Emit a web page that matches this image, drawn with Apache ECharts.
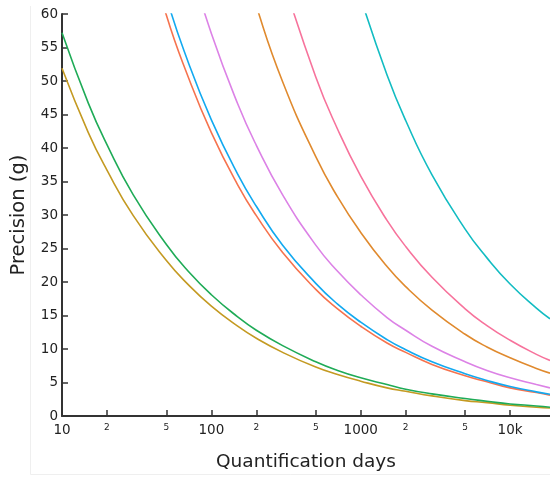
<!DOCTYPE html>
<html>
<head>
<meta charset="utf-8">
<script src="https://cdn.jsdelivr.net/npm/echarts@6/dist/echarts.min.js"></script>
<style>html,body{margin:0;padding:0;background:#fff}#c{width:550px;height:477px}</style>
</head>
<body>
<div id="c"></div>
<script>
const days = [10,15,20,30,50,70,100,150,200,300,500,700,1000,1500,2000,3000,5000,7000,10000,15000,18500];
const tickDays = [10,20,50,100,200,500,1000,2000,5000,10000];
const tickNames = ['10','2','5','100','2','5','1000','2','5','10k'];
const yTicks = [0,5,10,15,20,25,30,35,40,45,50,55,60];

const gold   = [51.9,42.3,36.7,29.9,23.2,19.6,16.4,13.4,11.6,9.5,7.3,6.2,5.2,4.2,3.7,3.0,2.3,2.0,1.6,1.3,1.2];
const green  = [57.2,46.7,40.5,33.0,25.6,21.6,18.1,14.8,12.8,10.5,8.1,6.8,5.7,4.7,4.0,3.3,2.6,2.2,1.8,1.5,1.3];
const red    = [null,null,null,77.2,59.8,50.6,42.3,34.5,29.9,24.4,18.9,16.0,13.4,10.9,9.5,7.7,6.0,5.1,4.2,3.5,3.1];
const blue   = [null,null,null,80.7,62.5,52.8,44.2,36.1,31.3,25.5,19.8,16.7,14.0,11.4,9.9,8.1,6.3,5.3,4.4,3.6,3.25];
const violet = [null,null,null,null,null,68.2,57.1,46.6,40.4,33.0,25.5,21.6,18.1,14.7,12.8,10.4,8.1,6.8,5.7,4.7,4.2];
const orange = [null,null,null,null,null,null,null,70.6,61.2,49.9,38.7,32.7,27.4,22.3,19.3,15.8,12.2,10.3,8.7,7.1,6.4];
const pink   = [null,null,null,null,null,null,null,null,null,65.4,50.6,42.8,35.8,29.2,25.3,20.7,16.0,13.5,11.3,9.2,8.3];
const teal   = [null,null,null,null,null,null,null,null,null,null,null,null,62.4,50.9,44.1,36.0,27.9,23.6,19.7,16.1,14.5];

const seriesDefs = [
  ['gold', gold, '#c49a22'],
  ['green', green, '#1fab57'],
  ['red', red, '#f6734e'],
  ['blue', blue, '#12a9f0'],
  ['violet', violet, '#dc82e6'],
  ['orange', orange, '#e08a2e'],
  ['pink', pink, '#f7739c'],
  ['teal', teal, '#12bcc2']
];

const chart = echarts.init(document.getElementById('c'), null, {renderer:'canvas'});
const font = 'DejaVu Sans';
chart.setOption({
  animation: false,
  backgroundColor: '#fff',
  textStyle: {fontFamily: font},
  graphic: [{
    type: 'polyline',
    shape: {points: [[30.5, 6], [30.5, 474.5], [560, 474.5]]},
    style: {stroke: '#efefef', lineWidth: 1, fill: null},
    silent: true
  }],
  grid: {left: 62, top: 14, right: 0, bottom: 59, containLabel: false},
  xAxis: {
    type: 'log', logBase: 10, min: 10, max: 18500,
    name: 'Quantification days', nameLocation: 'middle', nameGap: 37,
    nameTextStyle: {fontSize: 18.5, color: '#222', fontFamily: font},
    axisLine: {show: true, lineStyle: {color: '#333', width: 2}},
    axisTick: {show: true, inside: true, length: 6, lineStyle: {color: '#333', width: 1.5}, customValues: tickDays},
    axisLabel: {
      customValues: tickDays, margin: 7, color: '#222', fontFamily: font,
      formatter: function (v) {
        let idx = -1, best = 1e9;
        tickDays.forEach((d, i) => { const e = Math.abs(Math.log10(d) - Math.log10(v)); if (e < best) { best = e; idx = i; } });
        const t = tickNames[idx];
        return (t.length === 1) ? '{mn|' + t + '}' : '{mj|' + t + '}';
      },
      rich: {
        mj: {fontSize: 13.5, color: '#222', fontFamily: font},
        mn: {fontSize: 9, color: '#222', fontFamily: font, verticalAlign: 'top', padding: [0,0,4,0]}
      }
    },
    splitLine: {show: false},
    minorTick: {show: false}
  },
  yAxis: {
    type: 'value', min: 0, max: 60, interval: 5,
    name: 'Precision (g)', nameLocation: 'middle', nameGap: 33, nameRotate: 90,
    nameTextStyle: {fontSize: 19.5, color: '#222', fontFamily: font},
    axisLine: {show: true, lineStyle: {color: '#333', width: 2}},
    axisTick: {show: true, inside: true, length: 6, lineStyle: {color: '#333', width: 1.5}},
    axisLabel: {fontSize: 13.5, color: '#222', margin: 4, fontFamily: font},
    splitLine: {show: false}
  },
  series: seriesDefs.map(([n, vals, col]) => ({
    name: n, type: 'line', showSymbol: false, symbol: 'none', smooth: 0.5,
    clip: true,
    lineStyle: {color: col, width: 1.6},
    data: days.map((d, i) => [d, vals[i]])
  }))
});
</script>
</body>
</html>
